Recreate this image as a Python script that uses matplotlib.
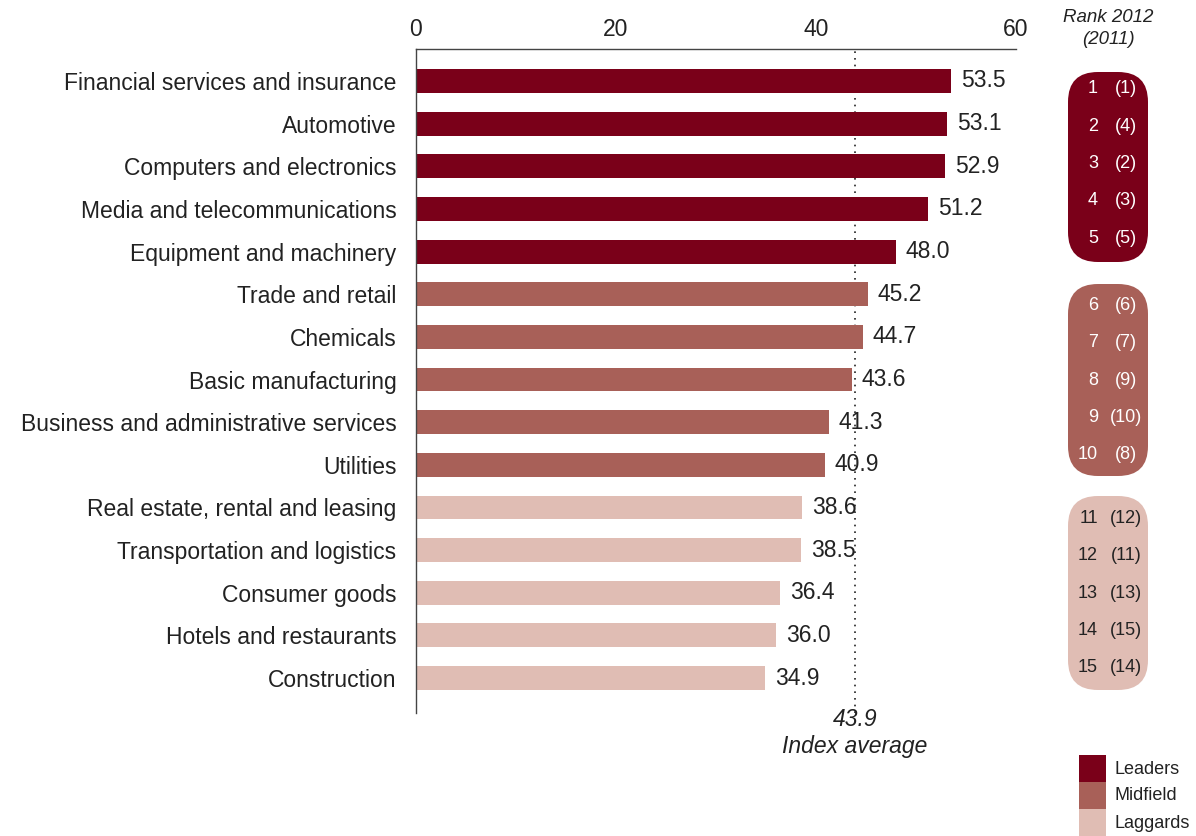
import matplotlib.pyplot as plt
from matplotlib.patches import FancyBboxPatch, Rectangle

plt.rcParams['font.family'] = ['Liberation Sans', 'DejaVu Sans']

# Данные
sectors = ['Financial services and insurance', 'Automotive', 'Computers and electronics',
           'Media and telecommunications', 'Equipment and machinery', 'Trade and retail',
           'Chemicals', 'Basic manufacturing', 'Business and administrative services',
           'Utilities', 'Real estate, rental and leasing', 'Transportation and logistics',
           'Consumer goods', 'Hotels and restaurants', 'Construction']
values = [53.5, 53.1, 52.9, 51.2, 48.0, 45.2, 44.7, 43.6, 41.3, 40.9, 38.6, 38.5, 36.4, 36.0, 34.9]
rank_2012 = list(range(1, 16))
rank_2011 = [1, 4, 2, 3, 5, 6, 7, 9, 10, 8, 12, 11, 13, 15, 14]
groups = ['Leaders'] * 5 + ['Midfield'] * 5 + ['Laggards'] * 5
average = 43.9

colors = {'Leaders': '#7a0019', 'Midfield': '#a86058', 'Laggards': '#e0bdb4'}
text_color = '#222222'

fig = plt.figure(figsize=(11.96, 8.36), dpi=100)
ax = fig.add_axes([0.3478, 0.1471, 0.5017, 0.7943])

y = list(range(len(sectors)))
ax.barh(y, values, height=0.56, color=[colors[g] for g in groups], zorder=2)

for yi, v in zip(y, values):
    ax.text(v + 1.0, yi, f'{v:.1f}', va='center', ha='left', fontsize=16.5, color=text_color, zorder=4)

ax.axvline(average, color='#222222', linestyle=(0, (1, 3)), linewidth=1.2, zorder=1)

ax.set_xlim(0, 60)
ax.set_ylim(14.82, -0.75)
ax.set_yticks(y)
ax.set_yticklabels(sectors, fontsize=16.5, color=text_color)
ax.xaxis.tick_top()
ax.set_xticks([0, 20, 40, 60])
ax.tick_params(axis='x', length=0, labelsize=16.5, labelcolor=text_color, pad=6)
ax.tick_params(axis='y', length=0, pad=14)
ax.spines['right'].set_visible(False)
ax.spines['bottom'].set_visible(False)
for s in ['top', 'left']:
    ax.spines[s].set_color('#444444')
    ax.spines[s].set_linewidth(1)

W, H = 1196, 836
x_avg = (0.3478 * W + average * 10) / W

# Подпись среднего
fig.text(x_avg, 1 - 720 / H, f'{average}', ha='center', va='center', fontsize=16.5,
         style='italic', color=text_color)
fig.text(x_avg, 1 - 746 / H, 'Index average', ha='center', va='center', fontsize=16.5,
         style='italic', color=text_color)

# Ранги справа
fig.text(1108 / W, 1 - 17 / H, 'Rank 2012', ha='center', va='center', fontsize=13.5,
         style='italic', color=text_color)
fig.text(1108 / W, 1 - 40 / H, '(2011)', ha='center', va='center', fontsize=13.5,
         style='italic', color=text_color)

boxes = {'Leaders': (72, 262), 'Midfield': (284, 476), 'Laggards': (496, 690)}
row_center = {'Leaders': 163.5, 'Midfield': 380, 'Laggards': 593}
for g, (top, bot) in boxes.items():
    x0, x1 = 1068, 1148
    box = FancyBboxPatch((x0 / W, 1 - bot / H), (x1 - x0) / W, (bot - top) / H,
                         boxstyle='round,pad=0,rounding_size=0.025',
                         transform=fig.transFigure, facecolor=colors[g], edgecolor='none',
                         mutation_aspect=W / H)
    fig.patches.append(box)

for i, (r12, r11, g) in enumerate(zip(rank_2012, rank_2011, groups)):
    k = i % 5
    yc = row_center[g] + (k - 2) * 37.3
    tc = 'white' if g != 'Laggards' else text_color
    fig.text(1098 / W, 1 - yc / H, str(r12), ha='right', va='center', fontsize=13, color=tc)
    fig.text(1126 / W, 1 - yc / H, f'({r11})', ha='center', va='center', fontsize=13, color=tc)

# Легенда
for j, g in enumerate(['Leaders', 'Midfield', 'Laggards']):
    top = 755 + j * 27
    fig.patches.append(Rectangle((1079 / W, 1 - (top + 27) / H), 27 / W, 27 / H,
                                 transform=fig.transFigure, facecolor=colors[g], edgecolor='none'))
    fig.text(1115 / W, 1 - (top + 14) / H, g, ha='left', va='center', fontsize=13, color=text_color)

fig.savefig('out.png', dpi=100)
